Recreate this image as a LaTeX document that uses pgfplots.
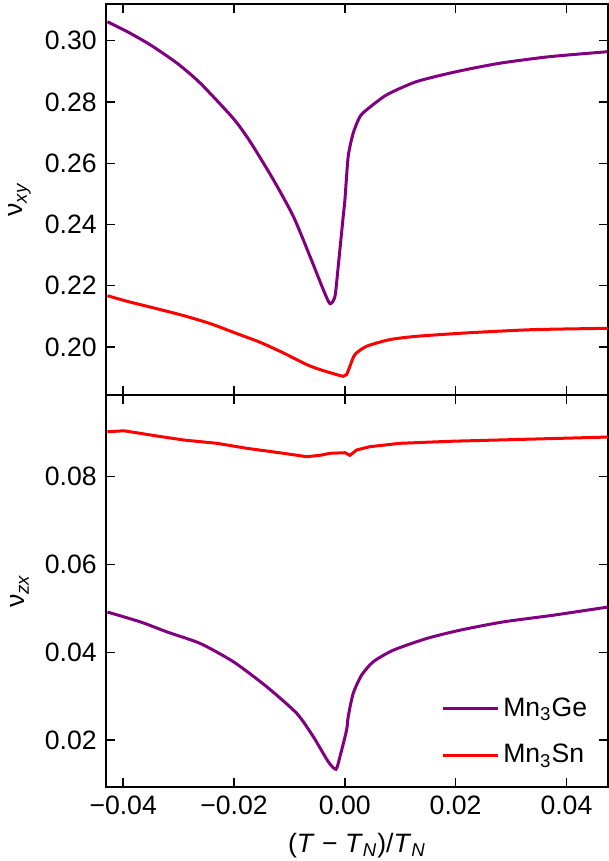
\documentclass[border=0pt]{standalone}
\usepackage{pgfplots}
\pgfplotsset{compat=1.18}
\usepackage{fontspec}
\setmainfont{Liberation Sans}
\definecolor{mpurple}{HTML}{800080}
\definecolor{mred}{HTML}{FF0000}
\begin{document}
\fontsize{13.3}{16}\selectfont
\begin{tikzpicture}
\pgfplotsset{
  common/.style={
    scale only axis, width=251pt,
    xmin=-0.0431, xmax=0.0475,
    xtick={-0.04,-0.02,0,0.02,0.04},
    scaled x ticks=false, scaled y ticks=false,
    tick align=inside, xtick pos=both, ytick pos=both,
    xticklabel pos=bottom, yticklabel pos=left,
    major tick length=4.5pt,
    axis line style={line width=0.7pt},
    every tick/.style={line width=0.7pt, black},
    every axis y label/.style={at={(axis description cs:-0.172,0.5)}, rotate=90, anchor=center},
    every axis plot/.append style={line width=1.5pt},
  }
}
% top panel
\begin{axis}[common,
  at={(0,196pt)}, anchor=south west, height=195.5pt,
  ymin=0.1843, ymax=0.312,
  ytick={0.20,0.22,0.24,0.26,0.28,0.30},
  yticklabels={0.20,0.22,0.24,0.26,0.28,0.30},
  xticklabels={},
  ylabel={ν\textsubscript{\textit{xy}}},
]
\addplot[mpurple, smooth, tension=0.4] coordinates {
(-0.04284,0.30620) (-0.03924,0.30294) (-0.03505,0.29860) (-0.03025,0.29263)
(-0.02606,0.28611) (-0.02007,0.27450) (-0.01707,0.26700) (-0.01288,0.25457)
(-0.00928,0.24260) (-0.00628,0.22955) (-0.00388,0.21869) (-0.00268,0.21412)
(-0.00178,0.21650) (-0.00119,0.22629) (-0.00029,0.24260) (0.00002,0.24804)
(0.00061,0.26217) (0.00151,0.26980) (0.00272,0.27521)
(0.00392,0.27740) (0.00752,0.28229) (0.01291,0.28663) (0.02011,0.28989)
(0.02790,0.29263) (0.03689,0.29478) (0.04737,0.29641)
};
\addplot[mred, smooth, tension=0.4] coordinates {
(-0.04284,0.21673) (-0.03924,0.21487) (-0.03446,0.21272) (-0.02906,0.21021)
(-0.02426,0.20760) (-0.01946,0.20434) (-0.01527,0.20150) (-0.01108,0.19804)
(-0.00687,0.19423) (-0.00448,0.19260) (-0.00209,0.19129) (-0.00029,0.19041)
(0.00032,0.19096) (0.00092,0.19367) (0.00182,0.19749) (0.00392,0.20020)
(0.00811,0.20238) (0.01291,0.20346) (0.02191,0.20457) (0.03388,0.20564)
(0.04750,0.20607)
};
\end{axis}
% bottom panel
\begin{axis}[common,
  at={(0,0)}, anchor=south west, height=196pt,
  ymin=0.0093, ymax=0.0986,
  ytick={0.02,0.04,0.06,0.08},
  yticklabels={0.02,0.04,0.06,0.08},
  xticklabels={−0.04,−0.02,0.00,0.02,0.04},
  ylabel={ν\textsubscript{\textit{zx}}},
  xlabel={(\textit{T} − \textit{T}\textsubscript{\textit{N}})/\textit{T}\textsubscript{\textit{N}}},
  legend style={draw=none, fill=none, at={(0.975,0.03)}, anchor=south east,
    row sep=8pt, inner sep=2pt},
  legend cell align=left,
  legend image code/.code={\draw[#1] (-2pt,0pt) -- (25.5pt,0pt);},
]
\addplot[mpurple, smooth, tension=0.4] coordinates {
(-0.04284,0.04916) (-0.03685,0.04689) (-0.03205,0.04461) (-0.02606,0.04198)
(-0.02007,0.03780) (-0.01406,0.03211) (-0.00867,0.02607) (-0.00568,0.02075)
(-0.00299,0.01507) (-0.00160,0.01334) (-0.00088,0.01620) (0.00032,0.02227)
(0.00061,0.02530) (0.00151,0.03061) (0.00302,0.03477) (0.00511,0.03780)
(0.00871,0.04045) (0.01471,0.04311) (0.02070,0.04500) (0.02849,0.04689)
(0.03748,0.04841) (0.04750,0.05030)
};
\addlegendentry{Mn\textsubscript{3}Ge}
\addplot[mred] coordinates {
(-0.04284,0.09023) (-0.03986,0.09045) (-0.03385,0.08925) (-0.02906,0.08834)
(-0.02306,0.08759) (-0.01766,0.08645) (-0.01108,0.08532) (-0.00687,0.08455)
(-0.00448,0.08486) (-0.00268,0.08532) (0.00002,0.08545) (0.00092,0.08486)
(0.00212,0.08607) (0.00451,0.08682) (0.00991,0.08759) (0.01890,0.08805)
(0.04750,0.08902)
};
\addlegendentry{Mn\textsubscript{3}Sn}
\end{axis}
\pgfresetboundingbox
\path (-53pt,-37pt) rectangle (251.5pt,393.5pt);
\end{tikzpicture}
\end{document}
